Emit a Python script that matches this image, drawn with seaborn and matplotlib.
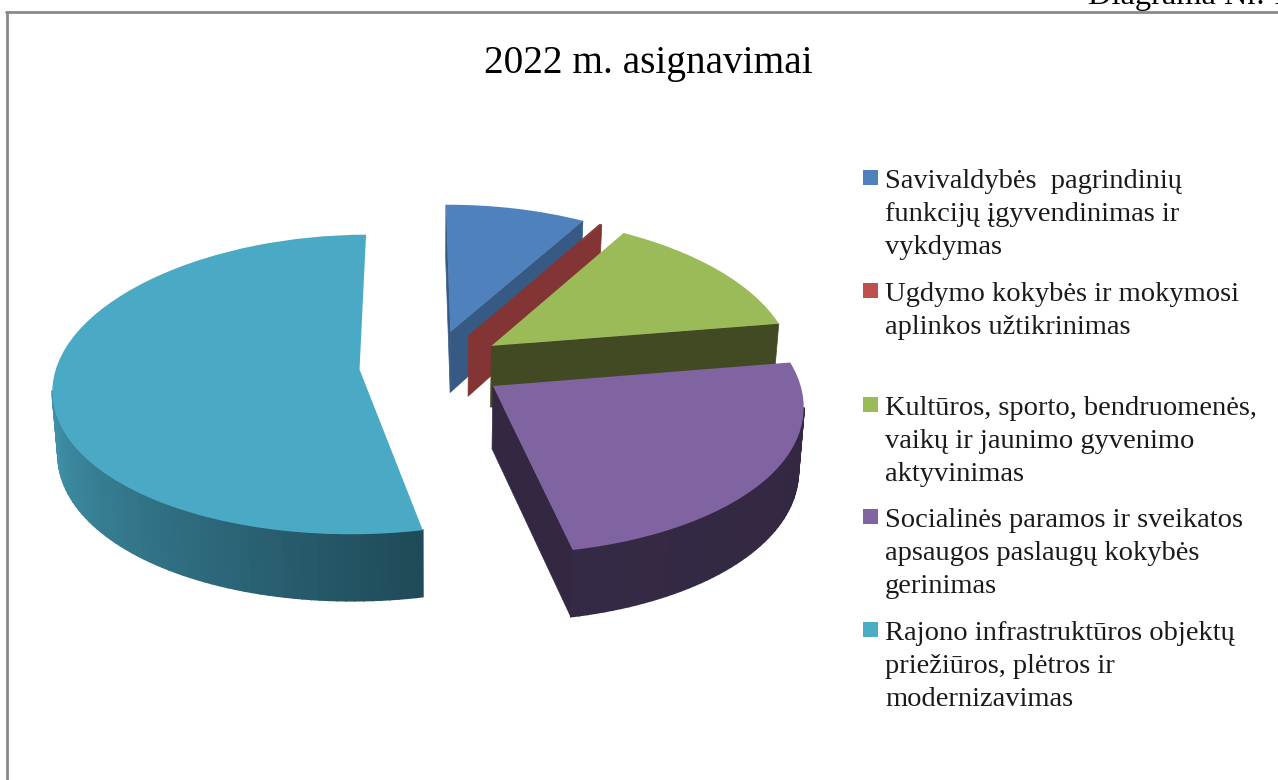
from matplotlib import pyplot as plt
from matplotlib.lines import Line2D
from matplotlib.patches import Rectangle
from matplotlib.colors import to_rgb
from matplotlib.transforms import Transform
import seaborn as sns
import numpy as np

title = "2022 m. asignavimai"
corner_text = "Diagrama Nr. 1"
shares = [8.7, 0.15, 13.8, 24.1, 53.25]
labels = [
    "Savivaldybės  pagrindinių\nfunkcijų įgyvendinimas ir\nvykdymas",
    "Ugdymo kokybės ir mokymosi\naplinkos užtikrinimas",
    "Kultūros, sporto, bendruomenės,\nvaikų ir jaunimo gyvenimo\naktyvinimas",
    "Socialinės paramos ir sveikatos\napsaugos paslaugų kokybės\ngerinimas",
    "Rajono infrastruktūros objektų\npriežiūros, plėtros ir\nmodernizavimas",
]
top_colors = ["#4f81bd", "#833535", "#9bbb59", "#8064a2", "#4aa9c4"]
key_colors = ["#4f81bd", "#c0504d", "#9bbb59", "#8064a2", "#4bacc6"]
side_light = ["#375a85", "#833535", "#414a22", "#352a45", "#4296ae"]
side_dark = ["#375a85", "#833535", "#414a22", "#332741", "#1f4a58"]
key_y = [178, 291, 405, 517, 630]

W, H = 1278, 780


# perspective: front of the pie is drawn a bit larger than the back
def fwd(y):
    y = np.asarray(y, dtype=float)
    return 149 * y - 15 * y ** 2


def inv(v):
    v = np.asarray(v, dtype=float)
    return (149 - np.sqrt(np.clip(149 ** 2 - 60 * v, 0, None))) / 30


def narrow(x, y):
    return x * (0.98 - 0.12 * y)


def depth(y):
    return 0.40 + 0.04 * y


class Narrow(Transform):
    input_dims = 2
    output_dims = 2

    def transform_non_affine(self, values):
        values = np.asarray(values, dtype=float)
        return np.column_stack([narrow(values[:, 0], values[:, 1]), values[:, 1]])


sns.set_theme(style="white")
plt.rcParams["font.family"] = ["Liberation Serif", "DejaVu Serif"]

fig = plt.figure(figsize=(W / 100, H / 100), dpi=100)
ax = fig.add_axes([0, 0, 1, 1])

wedges, _ = ax.pie(shares, colors=top_colors, startangle=90.5, counterclock=False,
                   explode=[0.24] * len(shares), radius=1)
ax.set_aspect("auto")
ax.set_yscale("function", functions=(fwd, inv))
ax.set_xlim(-432 / 309, (W - 432) / 309)
ax.set_ylim(float(inv(365.5 - H)), float(inv(365.5)))
ax.set_axis_off()

for i, w in enumerate(wedges):
    w.set_transform(Narrow() + ax.transData)
    w.set_zorder(2 * i + 1)
    w.set_linewidth(0)
    cx, cy = w.center
    t1, t2 = w.theta1, w.theta2
    c0, c1 = np.array(to_rgb(side_light[i])), np.array(to_rgb(side_dark[i]))

    # cut faces, only those turned toward the viewer
    for t, sign in [(t1, 1), (t2, -1)]:
        if sign * np.cos(np.radians(t)) > 0:
            ex, ey = cx + np.cos(np.radians(t)), cy + np.sin(np.radians(t))
            x0, x1 = narrow(cx, cy), narrow(ex, ey)
            ax.fill([x0, x1, x1 * 0.985, x0 * 0.985],
                    [cy, ey, ey - depth(ey), cy - depth(cy)],
                    color=side_dark[i], lw=0.5, zorder=2 * i)

    # outer rim, split into short strips so the shade can change along it
    lo = max(t1, -172)
    hi = min(t2, -8)
    if hi <= lo:
        continue
    steps = np.arange(lo, hi + 1.5, 1.5)
    steps[-1] = hi
    for a, b, f in zip(steps[:-1], steps[1:], np.linspace(0, 1, len(steps) - 1)):
        th = np.radians(np.linspace(a, b, 3))
        ys = cy + np.sin(th)
        xs = narrow(cx + np.cos(th), ys)
        ax.fill(np.r_[xs, xs[::-1] * 0.985], np.r_[ys, ys[::-1] - depth(ys[::-1])],
                color=c0 + (c1 - c0) * f, lw=1.2, zorder=2 * i)

fig.text(648 / W, 1 - 63 / H, title, fontsize=28.3, color="black", ha="center", va="center")
fig.text(1088 / W, 1 - 4 / H, corner_text, fontsize=23.4, color="black", ha="left", va="baseline")

for lab, col, y in zip(labels, key_colors, key_y):
    fig.add_artist(Rectangle((863 / W, 1 - (y + 7) / H), 15 / W, 15 / H, color=col,
                             lw=0, transform=fig.transFigure))
    fig.text(885 / W, 1 - (y - 9) / H, lab, fontsize=20.5, color="#1a1a1a", ha="left",
             va="top", linespacing=1.42)

# chart border, only the top and left edges are in the crop
border = "#8a8a8a"
fig.add_artist(Line2D([7 / W, 7 / W], [0, 1 - 12 / H], color=border, lw=2, transform=fig.transFigure))
fig.add_artist(Line2D([6 / W, 1], [1 - 12 / H, 1 - 12 / H], color=border, lw=2, transform=fig.transFigure))

plt.savefig("out.png", dpi=100)
